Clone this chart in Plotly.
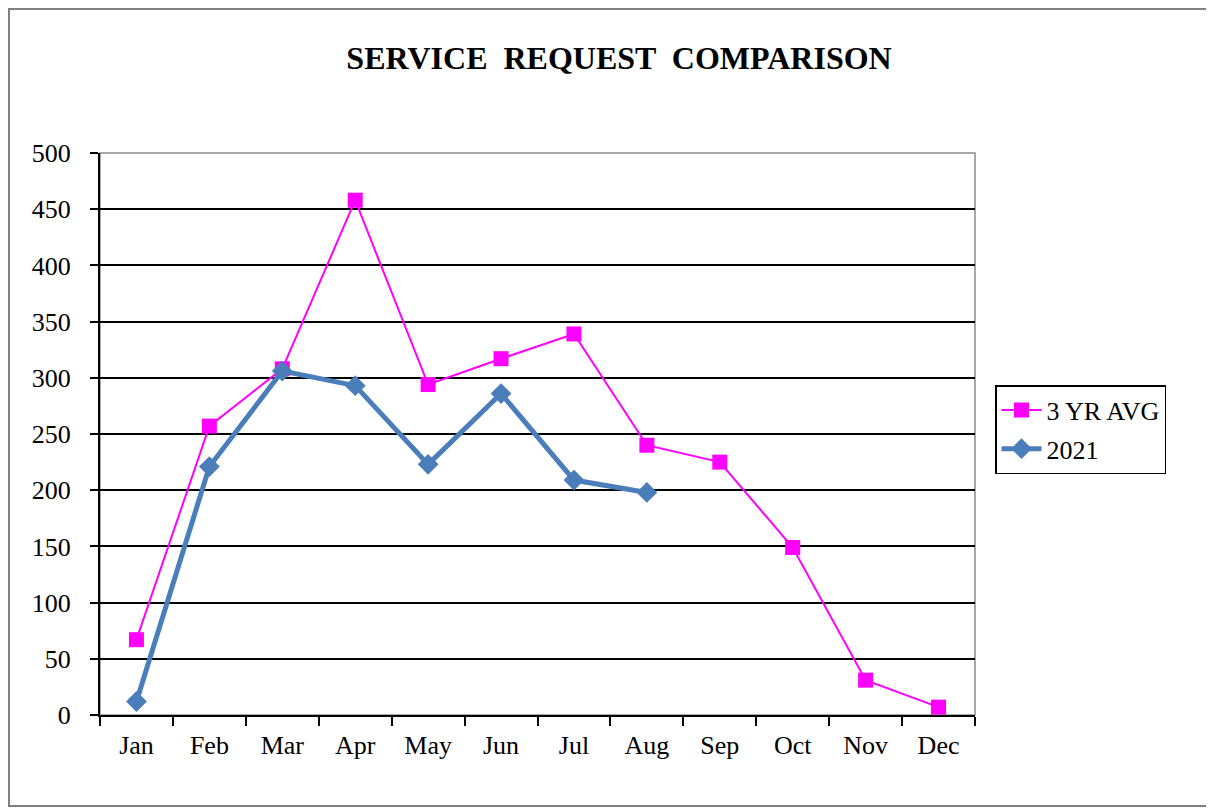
import plotly.graph_objects as go

months = ["Jan", "Feb", "Mar", "Apr", "May", "Jun", "Jul", "Aug", "Sep", "Oct", "Nov", "Dec"]
avg_3yr = [67, 257, 308, 458, 294, 317, 339, 240, 225, 149, 31, 7]
months_2021 = ["Jan", "Feb", "Mar", "Apr", "May", "Jun", "Jul", "Aug"]
vals_2021 = [12, 221, 306, 293, 223, 286, 209, 198]
y_ticks = [0, 50, 100, 150, 200, 250, 300, 350, 400, 450, 500]

SERIF = "Liberation Serif, Times New Roman, serif"

fig = go.Figure()
fig.add_trace(go.Scatter(
    x=months, y=avg_3yr, name="3 YR AVG", mode="lines+markers",
    line=dict(color="#FF00FF", width=2),
    marker=dict(symbol="square", size=15, color="#FF00FF"),
    legendgroup="a",
))
fig.add_trace(go.Scatter(
    x=months_2021, y=vals_2021, name="2021", mode="lines+markers",
    line=dict(color="#4A7EBB", width=5),
    marker=dict(symbol="diamond", size=16, color="#4A7EBB"),
    legendgroup="b",
))

# page has an 8px body margin, so figure coords = screen coords - 8
W, H = 1206, 800
L, R, T, B = 92, 967, 145, 707
pw, ph = R - L, B - T


def px_x(x):
    return (x - L) / pw


def px_y(y):
    return (B - y) / ph


shapes = [
    # outer frame
    dict(type="rect", xref="paper", yref="paper",
         x0=px_x(1), x1=px_x(1220), y0=px_y(798), y1=px_y(1),
         line=dict(color="#808080", width=2), fillcolor="rgba(0,0,0,0)", layer="below"),
    # plot area border (gray)
    dict(type="rect", xref="paper", yref="paper", x0=0, x1=1, y0=0, y1=1,
         line=dict(color="#8c8c8c", width=1.5), fillcolor="rgba(0,0,0,0)", layer="below"),
]

fig.update_layout(
    width=W, height=H,
    margin=dict(l=L, r=W - R, t=T, b=H - B),
    paper_bgcolor="white", plot_bgcolor="white",
    title=dict(text="SERVICE  REQUEST  COMPARISON", x=611 / W, xanchor="center",
               y=1 - 50 / H, yanchor="middle", yref="container", xref="container",
               font=dict(family=SERIF, size=32, color="black", weight="bold")),
    font=dict(family=SERIF, size=26, color="black"),
    xaxis=dict(
        type="category", categoryorder="array", categoryarray=months,
        range=[-0.5, 11.5], tickson="boundaries", ticks="outside", ticklen=9,
        tickwidth=2, tickcolor="black", showline=True, linecolor="black", linewidth=2,
        showgrid=False, zeroline=False, ticklabelstandoff=6,
        tickfont=dict(family=SERIF, size=26, color="black"),
    ),
    yaxis=dict(
        range=[0, 500], tickvals=y_ticks, ticks="outside", ticklen=8, tickwidth=2,
        tickcolor="black", showline=True, linecolor="black", linewidth=2,
        showgrid=True, gridcolor="black", gridwidth=2, zeroline=False,
        ticklabelstandoff=14,
        tickfont=dict(family=SERIF, size=26, color="black"),
    ),
    legend=dict(
        x=px_x(987), y=px_y(377), xanchor="left", yanchor="top",
        bordercolor="black", borderwidth=1.5, bgcolor="white",
        font=dict(family=SERIF, size=26, color="black"),
        tracegroupgap=2, itemwidth=40,
    ),
    shapes=shapes,
    showlegend=True,
)

fig.write_html("out.html")
